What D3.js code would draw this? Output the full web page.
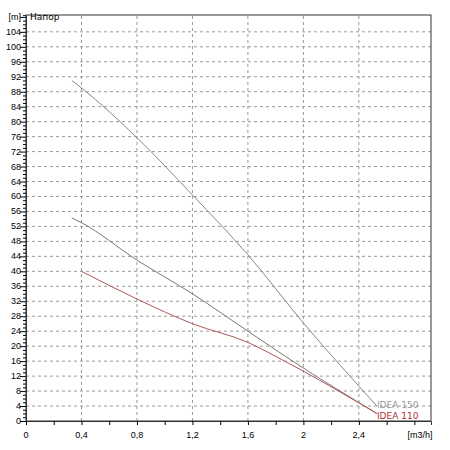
<!DOCTYPE html>
<html><head><meta charset="utf-8">
<script src="https://cdn.jsdelivr.net/npm/d3@7"></script>
<style>body{margin:0;background:#fff}svg{font-family:"DejaVu Sans",sans-serif}</style>
</head><body>
<script>
const flowA = [0.33, 0.4, 0.8, 1.2, 1.6, 2.0, 2.53]
const headIdea150 = [91, 89, 75.7, 60.4, 44.4, 26.2, 4]
const flowB = [0.33, 0.4, 0.8, 1.2, 1.6, 1.91, 2.53]
const headMid = [54.3, 53, 43, 34, 24, 16.3, 2]
const flowC = [0.4, 0.8, 1.2, 1.6, 1.85, 2.53]
const headIdea110 = [40, 32.6, 26, 21, 16.3, 2]
const xTicks = [0, 0.4, 0.8, 1.2, 1.6, 2, 2.4]
const yTicks = d3.range(0, 105, 4)

const W = 450, H = 450
const m = { l: 26, r: 19, t: 15, b: 29 }
const svg = d3.select('body').append('svg').attr('width', W).attr('height', H)
const x = d3.scaleLinear().domain([0, 2.92]).range([m.l, W - m.r])
const y = d3.scaleLinear().domain([0, 108.5]).range([H - m.b, m.t])

// grid
svg.append('g').selectAll('line').data(xTicks.slice(1)).join('line')
  .attr('x1', d => x(d)).attr('x2', d => x(d)).attr('y1', y(0)).attr('y2', m.t)
  .attr('stroke', '#999').attr('stroke-dasharray', '3,3')
svg.append('g').selectAll('line').data(yTicks.slice(1)).join('line')
  .attr('y1', d => y(d)).attr('y2', d => y(d)).attr('x1', x(0)).attr('x2', W - m.r)
  .attr('stroke', '#999').attr('stroke-dasharray', '3,3')

svg.append('rect').attr('x', m.l).attr('y', m.t).attr('width', W - m.l - m.r)
  .attr('height', H - m.t - m.b).attr('fill', 'none').attr('stroke', '#333')

// axes
const xAxis = svg.append('g').attr('transform', `translate(0,${y(0)})`)
  .call(d3.axisBottom(x).tickValues(d3.range(0, 2.95, 0.2)).tickSize(4).tickFormat(''))
xAxis.append('g').selectAll('text').data(xTicks).join('text')
  .attr('x', d => x(d)).attr('y', 17).attr('text-anchor', 'middle')
  .attr('fill', '#000').attr('font-size', 9).text(d => String(d).replace('.', ','))
xAxis.append('text').attr('x', 420).attr('y', 17).attr('text-anchor', 'middle')
  .attr('fill', '#000').attr('font-size', 9).text('[m3/h]')

const yAxis = svg.append('g').attr('transform', `translate(${x(0)},0)`)
  .call(d3.axisLeft(y).tickValues(d3.range(0, 109, 1)).tickSize(3).tickFormat(''))
yAxis.selectAll('.tick').filter(d => d % 4 === 0).select('line').attr('x2', -6)
yAxis.append('g').selectAll('text').data(yTicks).join('text')
  .attr('x', -5).attr('y', d => y(d) + 3).attr('text-anchor', 'end')
  .attr('fill', '#000').attr('font-size', 9).text(d => d)
yAxis.append('text').attr('x', -5).attr('y', y(108) + 3).attr('text-anchor', 'end')
  .attr('fill', '#000').attr('font-size', 9).text('[m]')
svg.selectAll('.domain').attr('stroke', '#333')
svg.append('text').attr('x', 30).attr('y', y(108) + 3).attr('font-size', 9).text('Напор')

const line = d3.line().x(d => x(d[0])).y(d => y(d[1])).curve(d3.curveMonotoneX)
const curves = [
  [d3.zip(flowA, headIdea150), '#888'],
  [d3.zip(flowB, headMid), '#777'],
  [d3.zip(flowC, headIdea110), '#b05858']
]
curves.forEach(([pts, c]) => svg.append('path').attr('d', line(pts))
  .attr('fill', 'none').attr('stroke', c).attr('stroke-width', 1))

svg.append('text').attr('x', x(2.53)).attr('y', y(4) + 2).attr('font-size', 9)
  .attr('fill', '#999').text('IDEA 150')
svg.append('text').attr('x', x(2.53)).attr('y', y(1) + 2).attr('font-size', 9)
  .attr('fill', '#b03030').text('IDEA 110')
</script>
</body></html>
